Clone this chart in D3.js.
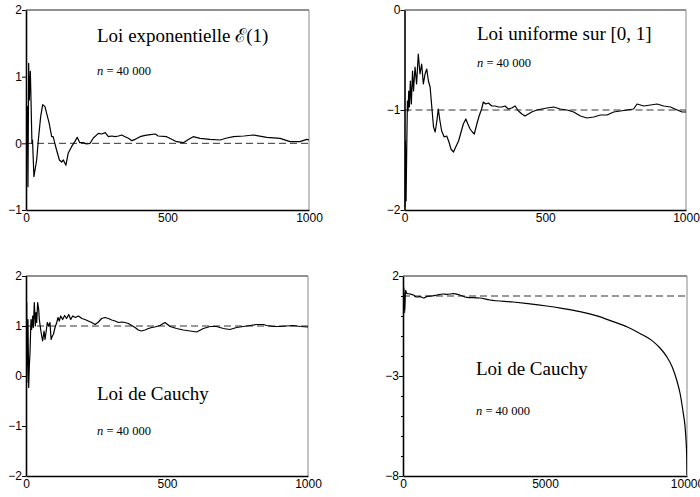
<!DOCTYPE html>
<html>
<head>
<meta charset="utf-8">
<script src="https://cdn.jsdelivr.net/npm/d3@7"></script>
<style>
  body { margin: 0; background: #fff; }
  svg { display: block; }
</style>
</head>
<body>
<div id="chart"></div>
<script>
// moyennes empiriques: [n, valeur]
const expData = [
  [1,0.3],[4.7,0.55],[7,-0.65],[9.4,1.2],[11.8,0.65],[15.3,1.08],[17.7,0.65],[21,0],[23,0.05],
  [28,-0.5],[37.7,-0.25],[43.6,0.05],[51.8,0.4],[59,0.58],[67,0.55],[73,0.45],[82,0.3],
  [90.7,0.1],[96,0.1],[102,0],[108,-0.1],[118,-0.25],[126,-0.28],[132,-0.25],[141,-0.33],
  [149,-0.15],[161,-0.05],[173,0.03],[181,0.09],[190,0.01],[202,0.01],[214,-0.01],[226,0],
  [238,0.08],[256,0.15],[268,0.14],[280,0.16],[291,0.1],[303,0.11],[315,0.1],[327,0.11],
  [338,0.125],[350,0.1],[362,0.075],[374,0.04],[386,0.06],[403,0.1],[421,0.12],[439,0.13],
  [457,0.14],[467,0.11],[497,0.1],[515,0.06],[532,0.025],[556,0.01],[575,0.06],[591,0.1],
  [615,0.075],[650,0.06],[686,0.05],[710,0.08],[733,0.1],[770,0.11],[803,0.125],[851,0.09],
  [898,0.075],[933,0.025],[968,0.025],[992,0.06],[1000,0.05]
];

const unifData = [
  [1,-1.97],[3.2,-1.31],[5.6,-1.91],[8,-1.37],[10.4,-0.91],[12.7,-1.01],[15,-0.81],[17.4,-0.97],
  [20.8,-0.71],[24.3,-0.94],[28.5,-0.61],[32,-0.81],[37.4,-0.57],[43,-0.74],[49,-0.44],
  [55,-0.64],[61,-0.54],[67,-0.74],[73,-0.64],[79,-0.59],[85,-0.71],[91,-0.77],[97,-0.97],
  [103,-1.17],[109,-1.22],[115,-1.11],[120,-0.99],[126,-1.11],[132,-1.21],[141,-1.27],
  [150,-1.26],[158,-1.32],[165,-1.39],[174,-1.42],[182,-1.37],[192,-1.31],[201,-1.22],
  [209,-1.14],[218,-1.09],[225,-1.14],[233,-1.19],[241,-1.22],[248,-1.24],[257,-1.14],
  [265,-1.06],[274,-0.99],[280,-0.92],[289,-0.94],[298,-0.93],[310,-0.96],[322,-0.96],
  [334,-0.97],[346,-0.97],[357,-0.96],[369,-0.99],[381,-0.98],[393,-0.96],[405,-1.01],
  [417,-1.04],[428,-1.06],[440,-1.04],[452,-1.02],[470,-1.0],[506,-0.98],[530,-0.97],
  [553,-0.99],[577,-1.0],[601,-1.02],[625,-1.06],[648,-1.08],[672,-1.07],[696,-1.05],
  [720,-1.05],[743,-1.02],[767,-1.01],[791,-1.0],[814,-0.99],[826,-0.94],[850,-0.96],
  [874,-0.95],[897,-0.94],[921,-0.96],[945,-0.97],[969,-1.0],[986,-1.02],[1000,-1.02]
];

const cauchyData = [
  [0.5,2.4],[1.5,0.4],[2.4,1.47],[3.1,-0.13],[7,1.13],[9.5,-0.23],[11.8,0.2],[14.2,0.47],
  [17.7,1.13],[20,0.93],[23.6,1.2],[26,0.97],[29.5,1.47],[33,1.0],[35.5,1.27],[38,1.07],
  [41.4,1.47],[45,1.33],[47.3,1.13],[52,0.93],[55.6,0.8],[59,0.7],[64,0.9],[67.4,0.73],
  [71,0.87],[75.6,1.07],[80,1.0],[85,1.07],[89,0.73],[93.4,0.8],[97,0.83],[103,0.97],
  [109,1.07],[113.5,1.17],[118,1.1],[123,1.2],[130,1.13],[137,1.21],[144,1.15],[151.5,1.23],
  [158.5,1.13],[165.5,1.2],[175,1.17],[186,1.2],[198,1.15],[209,1.13],[221,1.1],[233,1.07],
  [245,1.03],[257,1.08],[268,1.15],[280,1.17],[292,1.15],[304,1.12],[316,1.1],[328,1.07],
  [340,1.08],[351,1.07],[363,1.05],[375,1.01],[387,0.97],[398,0.92],[410,0.9],[422,0.92],
  [434,0.95],[446,0.97],[457,0.98],[469,1.0],[475,1.01],[493,1.07],[511,0.99],[534,0.95],
  [558,0.92],[582,0.9],[605,0.88],[629,0.95],[653,0.99],[676,0.99],[700,0.95],[723,0.93],
  [747,0.97],[771,0.99],[794,1.01],[818,1.03],[842,1.03],[853,1.01],[877,0.99],[901,0.99],
  [924,1.0],[948,1.01],[972,0.99],[1000,0.98]
];

const cauchyLongData = [
  [0,1.0],[30,1.45],[60,0.15],[90,1.3],[130,1.13],[250,1.1],[365,1.05],[480,0.95],[600,0.97],
  [720,0.9],[850,0.98],[1000,1.0],[1200,1.05],[1400,1.1],[1550,1.08],[1770,1.12],[2000,1.05],
  [2240,0.93],[2700,0.9],[3060,0.8],[3880,0.7],[4400,0.62],[5060,0.5],[5600,0.38],[6230,0.22],
  [6800,0.02],[7400,-0.28],[7900,-0.55],[8345,-0.87],[8813,-1.28],[9050,-1.6],[9285,-2.03],
  [9480,-2.55],[9637,-3.2],[9760,-3.9],[9870,-4.87],[9930,-5.5],[9965,-6.2],[9990,-7.0],
  [10000,-7.95]
];

const ticksX1000 = [0, 500, 1000];
const ticksX10000 = [0, 5000, 10000];
const ticksY1 = [-1, 0, 1, 2];
const ticksY2 = [-2, -1, 0];
const ticksY3 = [-2, -1, 0, 1, 2];
const ticksY4 = [-8, -3, 2];
const minorY4 = d3.range(-8, 3);

const panels = [
  { box: [26, 10, 309, 210], x: [0, 1000], y: [-1, 2], xt: ticksX1000, yt: ticksY1, ref: 0,
    data: expData, title: "Loi exponentielle \u2130(1)", tPos: [97, 42], nPos: [97, 75] },
  { box: [404.5, 10, 686, 210], x: [0, 1000], y: [-2, 0], xt: ticksX1000, yt: ticksY2, ref: -1,
    data: unifData, title: "Loi uniforme sur [0, 1]", tPos: [477, 40], nPos: [477, 67] },
  { box: [26, 276, 308, 476], x: [0, 1000], y: [-2, 2], xt: ticksX1000, yt: ticksY3, ref: 1,
    data: cauchyData, title: "Loi de Cauchy", tPos: [97, 400], nPos: [97, 435] },
  { box: [403, 276, 687, 476], x: [0, 10000], y: [-8, 2], xt: ticksX10000, yt: ticksY4, ref: 1,
    minor: minorY4, smooth: true,
    data: cauchyLongData, title: "Loi de Cauchy", tPos: [476, 375], nPos: [476, 415] }
];

const svg = d3.select("#chart").append("svg")
    .attr("width", 700)
    .attr("height", 497);

const fmt = d => (d < 0 ? "\u2212" + Math.abs(d) : "" + d);

panels.forEach((p, i) => {
    const [x0, y0, x1, y1] = p.box;
    const xScale = d3.scaleLinear().domain(p.x).range([x0, x1]);
    const yScale = d3.scaleLinear().domain(p.y).range([y1, y0]);

    const g = svg.append("g");

    g.append("clipPath").attr("id", "clip" + i)
      .append("rect")
        .attr("x", x0).attr("y", y0)
        .attr("width", x1 - x0).attr("height", y1 - y0);

    // cadre : haut et droite fins
    g.append("line")
        .attr("x1", x0).attr("x2", x1).attr("y1", y0).attr("y2", y0)
        .attr("stroke", "#222").attr("stroke-width", 1);
    g.append("line")
        .attr("x1", x1).attr("x2", x1).attr("y1", y0).attr("y2", y1)
        .attr("stroke", "#888").attr("stroke-width", 1);

    // ligne de référence
    g.append("line")
        .attr("x1", x0).attr("x2", x1)
        .attr("y1", yScale(p.ref)).attr("y2", yScale(p.ref))
        .attr("stroke", "#333").attr("stroke-width", 1)
        .attr("stroke-dasharray", "7,4");

    const line = d3.line()
        .x(d => xScale(d[0]))
        .y(d => yScale(d[1]))
        .curve(p.smooth ? d3.curveMonotoneX : d3.curveLinear);

    g.append("path")
        .attr("d", line(p.data))
        .attr("clip-path", "url(#clip" + i + ")")
        .attr("fill", "none")
        .attr("stroke", "#000")
        .attr("stroke-width", 1.2)
        .attr("stroke-linejoin", "round");

    if (p.minor) {
        g.append("g")
            .attr("transform", `translate(${x0},0)`)
            .call(d3.axisLeft(yScale).tickValues(p.minor).tickSize(2).tickFormat(""))
            .call(a => a.select(".domain").remove());
    }

    const yAxis = g.append("g")
        .attr("transform", `translate(${x0},0)`)
        .call(d3.axisLeft(yScale).tickValues(p.yt).tickSize(4).tickPadding(0)
            .tickFormat(fmt).tickSizeOuter(0));
    yAxis.select(".domain").attr("stroke-width", 1.6);
    yAxis.selectAll("text").attr("font-family", "Liberation Sans, Arial, sans-serif")
        .attr("font-size", 12).attr("fill", "#000");

    const xAxis = g.append("g")
        .attr("transform", `translate(0,${y1})`)
        .call(d3.axisBottom(xScale).tickValues(p.xt).tickSize(0).tickPadding(3)
            .tickFormat(d3.format("d")).tickSizeOuter(0));
    xAxis.select(".domain").attr("stroke-width", 1.6);
    xAxis.selectAll("text").attr("font-family", "Liberation Sans, Arial, sans-serif")
        .attr("font-size", 12).attr("fill", "#000");

    g.append("text")
        .attr("x", p.tPos[0]).attr("y", p.tPos[1])
        .attr("font-family", "Liberation Serif, Times New Roman, serif")
        .attr("font-size", 19)
        .text(p.title);

    const nt = g.append("text")
        .attr("x", p.nPos[0]).attr("y", p.nPos[1])
        .attr("font-family", "Liberation Serif, Times New Roman, serif")
        .attr("font-size", 12.5);
    nt.append("tspan").attr("font-style", "italic").text("n");
    nt.append("tspan").text(" = 40 000");
});
</script>
</body>
</html>
